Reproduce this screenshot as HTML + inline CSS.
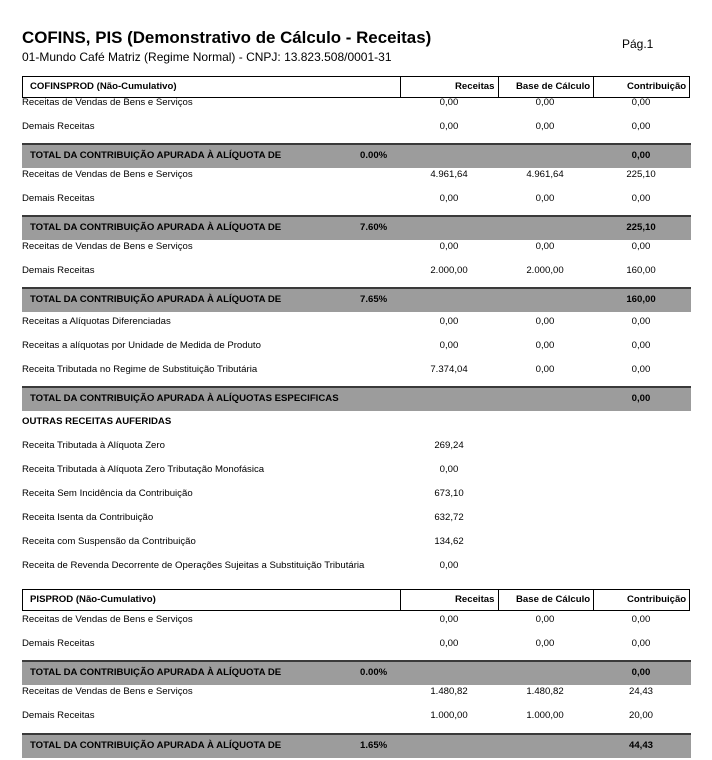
<!DOCTYPE html>
<html><head><meta charset="utf-8">
<style>
body{margin:0;background:#fff;width:712px;height:760px;overflow:hidden;position:relative;font-family:"Liberation Sans",Arial,sans-serif;color:#000}
.a{position:absolute;white-space:nowrap;line-height:12px;font-size:9.6px}
.b{font-weight:bold}
.bar{position:absolute;left:22px;width:669px;height:23px;background:#9c9c9c;border-top:2px solid #3a3a3a}
.hdr{position:absolute;left:22px;width:666px;height:20px;border:1.5px solid #000}
.hdr .c{position:absolute;top:0;bottom:0;border-left:1.5px solid #000}
.v{transform:translateX(-50%)}
</style></head><body>
<div class="a b" style="left:22px;top:27px;font-size:16.9px;line-height:22px">COFINS, PIS (Demonstrativo de Cálculo - Receitas)</div>
<div class="a" style="left:622px;top:37px;font-size:12px;line-height:14px">Pág.1</div>
<div class="a" style="left:22px;top:50px;font-size:12px;line-height:14px">01-Mundo Café Matriz (Regime Normal) - CNPJ: 13.823.508/0001-31</div>
<div id="root"></div>
<script>
const colX=[449,545,641];
const rows=[
["h",87,"COFINSPROD  (Não-Cumulativo)"],
["r",103,"Receitas de Vendas de Bens e Serviços",["0,00","0,00","0,00"]],
["r",127,"Demais Receitas",["0,00","0,00","0,00"]],
["t",143,"TOTAL DA CONTRIBUIÇÃO APURADA À ALÍQUOTA DE","0.00%","0,00"],
["r",175,"Receitas de Vendas de Bens e Serviços",["4.961,64","4.961,64","225,10"]],
["r",199,"Demais Receitas",["0,00","0,00","0,00"]],
["t",215,"TOTAL DA CONTRIBUIÇÃO APURADA À ALÍQUOTA DE","7.60%","225,10"],
["r",247,"Receitas de Vendas de Bens e Serviços",["0,00","0,00","0,00"]],
["r",271,"Demais Receitas",["2.000,00","2.000,00","160,00"]],
["t",287,"TOTAL DA CONTRIBUIÇÃO APURADA À ALÍQUOTA DE","7.65%","160,00"],
["r",322,"Receitas a Alíquotas Diferenciadas",["0,00","0,00","0,00"]],
["r",346,"Receitas a alíquotas por Unidade de Medida de Produto",["0,00","0,00","0,00"]],
["r",370,"Receita Tributada no Regime de Substituição Tributária",["7.374,04","0,00","0,00"]],
["t",386,"TOTAL DA CONTRIBUIÇÃO APURADA À ALÍQUOTAS ESPECIFICAS","","0,00"],
["s",422,"OUTRAS RECEITAS AUFERIDAS"],
["r",446,"Receita Tributada à Alíquota Zero",["269,24"]],
["r",470,"Receita Tributada à Alíquota Zero Tributação Monofásica",["0,00"]],
["r",494,"Receita Sem Incidência da Contribuição",["673,10"]],
["r",518,"Receita Isenta da Contribuição",["632,72"]],
["r",542,"Receita com Suspensão da Contribuição",["134,62"]],
["r",566,"Receita de Revenda Decorrente de Operações Sujeitas a Substituição Tributária",["0,00"]],
["h",600,"PISPROD  (Não-Cumulativo)"],
["r",620,"Receitas de Vendas de Bens e Serviços",["0,00","0,00","0,00"]],
["r",644,"Demais Receitas",["0,00","0,00","0,00"]],
["t",660,"TOTAL DA CONTRIBUIÇÃO APURADA À ALÍQUOTA DE","0.00%","0,00"],
["r",692,"Receitas de Vendas de Bens e Serviços",["1.480,82","1.480,82","24,43"]],
["r",716,"Demais Receitas",["1.000,00","1.000,00","20,00"]],
["t",733,"TOTAL DA CONTRIBUIÇÃO APURADA À ALÍQUOTA DE","1.65%","44,43"]
];
const root=document.getElementById('root');
function txt(x,y,s,cls){const d=document.createElement('div');d.className='a '+(cls||'');d.style.left=x+'px';d.style.top=y+'px';d.textContent=s;root.appendChild(d);return d;}
rows.forEach(r=>{
 const [k,y]=r;
 if(k==='h'){
  const h=document.createElement('div');h.className='hdr';h.style.top=(y-11)+'px';
  
  
  [377,475,570].forEach(x=>{const c=document.createElement('div');c.className='c';c.style.left=x+'px';h.appendChild(c);});
  root.appendChild(h);
  let t=txt(30,y-6,r[2],'b');
  t=txt(455,y-6,'Receitas','b');
  t=txt(516,y-6,'Base de Cálculo','b');
  t=txt(627,y-6,'Contribuição','b');
 } else if(k==='t'){
  const b=document.createElement('div');b.className='bar';b.style.top=y+'px';
  
  
  root.appendChild(b);
  txt(30,y+7,r[2],'b');
  if(r[3])txt(360,y+7,r[3],'b');
  const v=txt(colX[2],y+7,r[4],'b v');
 } else if(k==='s'){
  const t=txt(22,y-6,r[2],'b');
 } else {
  const t=txt(22,y-6,r[2]);
  r[3].forEach((v,i)=>{const e=txt(colX[i],y-6,v,'v');});
 }
});
</script>
</body></html>
